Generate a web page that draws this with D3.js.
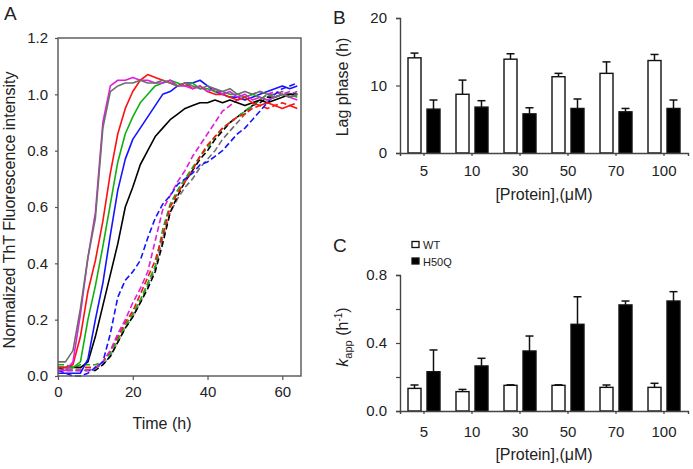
<!DOCTYPE html>
<html><head><meta charset="utf-8">
<script src="https://cdn.jsdelivr.net/npm/d3@7"></script>
<style>
body{margin:0;background:#fff;}
svg{display:block;font-family:"Liberation Sans",Arial,sans-serif;}
</style></head>
<body><svg id="c" width="693" height="469"></svg>
<script>
// ---------- Panel A data ----------
const time = d3.range(0, 65, 2); // 0,2,...,64 h
const solidGray    = [0.05,0.05,0.09,0.24,0.42,0.56,0.88,1.01,1.03,1.04,1.04,1.05,1.04,1.04,1.05,1.04,1.03,1.04,1.03,1.02,1.03,1.02,1.01,1.02,1.00,1.01,1.00,1.01,1.00,0.99,1.00,0.99,1.00];
const solidMagenta = [0.02,0.02,0.05,0.22,0.42,0.58,0.90,1.03,1.05,1.05,1.06,1.05,1.05,1.04,1.04,1.05,1.03,1.03,1.02,1.03,1.01,1.02,1.00,1.01,0.99,1.00,0.98,0.99,0.98,0.99,1.00,0.99,0.98];
const solidRed     = [0.03,0.03,0.04,0.14,0.30,0.41,0.55,0.72,0.86,0.95,1.01,1.05,1.07,1.06,1.05,1.04,1.03,1.04,1.02,1.03,1.01,1.00,1.00,0.99,0.98,0.99,0.97,0.96,0.97,0.96,0.95,0.96,0.95];
const solidGreen   = [0.03,0.03,0.03,0.05,0.20,0.32,0.46,0.61,0.76,0.86,0.92,0.97,1.00,1.03,1.04,1.05,1.04,1.03,1.04,1.02,1.02,1.01,1.01,1.00,1.00,0.99,1.00,0.99,0.98,0.99,1.00,0.99,1.00];
const solidBlue    = [0.01,0.01,0.01,0.01,0.06,0.20,0.33,0.50,0.66,0.77,0.84,0.88,0.92,0.96,1.00,1.01,1.03,1.04,1.04,1.05,1.03,1.01,1.00,0.99,0.99,0.98,0.99,1.00,1.01,1.02,1.03,1.02,1.03];
const solidBlack   = [0.03,0.03,0.03,0.03,0.05,0.14,0.25,0.36,0.47,0.60,0.67,0.75,0.80,0.85,0.88,0.91,0.93,0.95,0.96,0.97,0.97,0.98,0.97,0.98,0.97,0.96,0.97,0.98,0.97,0.98,0.99,1.00,1.00];
const dashBlue     = [0.02,0.01,0.00,0.00,0.01,0.03,0.05,0.15,0.28,0.34,0.37,0.41,0.49,0.56,0.61,0.64,0.68,0.70,0.72,0.75,0.76,0.78,0.80,0.83,0.86,0.88,0.91,0.94,0.97,1.00,1.02,1.03,1.04];
const dashMagenta  = [0.02,0.02,0.02,0.02,0.02,0.03,0.05,0.09,0.15,0.20,0.26,0.31,0.37,0.48,0.59,0.64,0.69,0.73,0.78,0.82,0.86,0.90,0.94,0.96,0.98,0.99,1.00,1.01,1.00,1.01,1.00,1.01,1.00];
const dashRed      = [0.03,0.03,0.03,0.03,0.03,0.03,0.05,0.09,0.14,0.19,0.23,0.29,0.35,0.41,0.50,0.60,0.65,0.69,0.73,0.78,0.82,0.85,0.88,0.90,0.92,0.93,0.95,0.96,0.95,0.96,0.97,0.96,0.97];
const dashGreen    = [0.04,0.04,0.03,0.04,0.04,0.04,0.05,0.08,0.13,0.18,0.22,0.27,0.33,0.39,0.52,0.61,0.66,0.70,0.74,0.78,0.81,0.85,0.88,0.90,0.92,0.94,0.96,0.98,1.00,0.99,1.00,1.00,0.99];
const dashBlack    = [0.03,0.02,0.02,0.02,0.02,0.02,0.04,0.07,0.12,0.17,0.21,0.26,0.31,0.37,0.47,0.58,0.64,0.69,0.73,0.77,0.80,0.84,0.87,0.90,0.92,0.94,0.96,0.97,0.99,0.99,1.00,0.99,1.00];
const dashGray     = [0.03,0.03,0.03,0.03,0.03,0.03,0.04,0.07,0.12,0.17,0.21,0.26,0.32,0.38,0.49,0.58,0.63,0.67,0.70,0.74,0.77,0.80,0.84,0.87,0.90,0.93,0.96,0.98,1.00,1.00,1.01,1.00,1.01];
const curveNames = ["dashGray","dashBlack","dashGreen","dashRed","dashMagenta","dashBlue","solidBlack","solidBlue","solidGreen","solidRed","solidMagenta","solidGray"];
const curveValues = [dashGray,dashBlack,dashGreen,dashRed,dashMagenta,dashBlue,solidBlack,solidBlue,solidGreen,solidRed,solidMagenta,solidGray];
const yTicksA = [0,0.2,0.4,0.6,0.8,1.0,1.2];
const xTicksA = [0,20,40,60];

// ---------- Panels B & C data ----------
const categories = ["5","10","30","50","70","100"];
const lagWT   = [14.1, 8.7, 13.9, 11.3, 11.8, 13.7];
const lagWTerr= [0.7, 2.1, 0.8, 0.5, 1.7, 0.9];
const lagH50Q = [6.5, 6.8, 5.8, 6.6, 6.1, 6.6];
const lagH50Qerr=[1.35, 0.95, 0.9, 1.4, 0.5, 1.25];
const kWT     = [0.133, 0.114, 0.151, 0.151, 0.139, 0.139];
const kWTerr  = [0.02, 0.013, 0.003, 0.003, 0.014, 0.024];
const kH50Q   = [0.231, 0.265, 0.353, 0.51, 0.624, 0.647];
const kH50Qerr= [0.128, 0.045, 0.088, 0.162, 0.023, 0.055];
const yTicksB = [0,10,20];
const yTicksC = [0,0.2,0.4,0.6,0.8];
const seriesNames = ["WT","H50Q"];

// ---------- drawing ----------
const svg = d3.select("#c");
const txt = "#222";
const colorOf = n => {
  if (/Gray/.test(n)) return "#6e6e6e";
  if (/Black/.test(n)) return "#000";
  if (/Green/.test(n)) return "#11b011";
  if (/Red/.test(n)) return "#ff1010";
  if (/Magenta/.test(n)) return "#e01ee0";
  if (/Blue/.test(n)) return "#1414ff";
};

// Panel A
const xA = d3.scaleLinear().domain([0,65]).range([58,301]);
const yA = d3.scaleLinear().domain([0,1.2]).range([376,38]);
const gA = svg.append("g");
const line = d3.line().x((d,i)=>xA(time[i])).y(d=>yA(d));
curveNames.forEach((n,k)=>{
  gA.append("path").datum(curveValues[k]).attr("d",line)
    .attr("fill","none").attr("stroke",colorOf(n)).attr("stroke-width",1.6)
    .attr("stroke-linejoin","round")
    .attr("stroke-dasharray", n.startsWith("dash") ? "6,3" : null);
});
gA.append("rect").attr("x",58).attr("y",38).attr("width",243).attr("height",338)
  .attr("fill","none").attr("stroke","#555").attr("stroke-width",1.4);
const axA_y = gA.append("g").attr("transform","translate(58,0)")
  .call(d3.axisLeft(yA).tickValues(yTicksA).tickFormat(d3.format(".1f")).tickSize(3).tickPadding(7));
const axA_x = gA.append("g").attr("transform","translate(0,376)")
  .call(d3.axisBottom(xA).tickValues(xTicksA).tickSize(4).tickPadding(6));
[axA_y,axA_x].forEach(a=>{
  a.select(".domain").remove();
  a.selectAll("line").attr("stroke","#555").attr("stroke-width",1.2);
  a.selectAll("text").attr("fill",txt).style("font-size","15px");
});
svg.append("text").attr("x",162).attr("y",429).attr("text-anchor","middle")
  .attr("fill",txt).style("font-size","16px").text("Time (h)");
svg.append("text").attr("transform","translate(15,210) rotate(-90)").attr("text-anchor","middle")
  .attr("fill",txt).style("font-size","16px").text("Normalized ThT Fluorescence intensity");
svg.append("text").attr("x",4).attr("y",20).attr("fill",txt).style("font-size","19px").text("A");

// Bar panels
const xB = d3.scaleBand().domain(categories).range([400,688]).padding(0);
function barPanel(y, ticks, fmt, wt, wtErr, mu, muErr, yLabel, letter, letterY, labelY, tickLabelY, titleY){
  const g = svg.append("g");
  const y0 = y(0);
  const bw = 13;
  const drawSeries = (vals, errs, off, fill) => {
    const gg = g.append("g");
    categories.forEach((c,i)=>{
      const cx = xB(c) + xB.bandwidth()/2 + off;
      const top = y(vals[i]), cap = y(vals[i]+errs[i]);
      gg.append("line").attr("x1",cx+bw/2).attr("x2",cx+bw/2).attr("y1",top).attr("y2",cap)
        .attr("stroke","#111").attr("stroke-width",1.5);
      gg.append("line").attr("x1",cx+bw/2-4).attr("x2",cx+bw/2+4).attr("y1",cap).attr("y2",cap)
        .attr("stroke","#111").attr("stroke-width",1.5);
      gg.append("rect").attr("x",cx).attr("y",top).attr("width",bw).attr("height",y0-top)
        .attr("fill",fill).attr("stroke","#111").attr("stroke-width",1.4);
    });
  };
  drawSeries(wt, wtErr, -16, "#fff");
  drawSeries(mu, muErr, 3, "#000");
  const ay = g.append("g").attr("transform","translate(400,0)")
    .call(d3.axisLeft(y).tickValues(ticks).tickFormat(fmt).tickSize(4).tickPadding(9));
  const ax = g.append("g").attr("transform",`translate(0,${y0})`)
    .call(d3.axisBottom(xB).tickSize(3).tickPadding(8));
  [ay,ax].forEach(a=>{
    a.select(".domain").attr("stroke","#444").attr("stroke-width",1.4);
    a.selectAll("line").attr("stroke","#444").attr("stroke-width",1.2);
    a.selectAll("text").attr("fill",txt).style("font-size","15px");
  });
  ax.selectAll("text").attr("y", tickLabelY - y0).attr("dy",0);
  svg.append("text").attr("x",544).attr("y",titleY).attr("text-anchor","middle")
    .attr("fill",txt).style("font-size","16px").text("[Protein],(\u03bcM)");
  svg.append("text").attr("x",333).attr("y",letterY).attr("fill",txt).style("font-size","19px").text(letter);
  return g;
}
const yB = d3.scaleLinear().domain([0,20]).range([153,18]);
barPanel(yB, yTicksB, d3.format("d"), lagWT, lagWTerr, lagH50Q, lagH50Qerr, null, "B", 24, 87, 176, 200);
svg.append("text").attr("transform","translate(348,87) rotate(-90)").attr("text-anchor","middle")
  .attr("fill",txt).style("font-size","16px").text("Lag phase (h)");

const yC = d3.scaleLinear().domain([0,0.8]).range([411,275]);
const gC = barPanel(yC, yTicksC, d=> (Math.abs(d*10 % 4) < 1e-9 ? d3.format(".1f")(d) : ""), kWT, kWTerr, kH50Q, kH50Qerr, null, "C", 252, 337, 437, 460);
const kl = svg.append("text").attr("transform","translate(348,337) rotate(-90)").attr("text-anchor","middle")
  .attr("fill",txt).style("font-size","16px");
kl.append("tspan").style("font-style","italic").text("k");
kl.append("tspan").attr("dy",4).style("font-size","11px").text("app");
kl.append("tspan").attr("dy",-4).text(" (h");
kl.append("tspan").attr("dy",-6).style("font-size","10px").text("-1");
kl.append("tspan").attr("dy",6).text(")");

// Legend
const leg = svg.append("g");
seriesNames.forEach((s,i)=>{
  const ly = 245 + i*16.5;
  leg.append("rect").attr("x",412).attr("y",ly-3.5).attr("width",7).attr("height",6)
    .attr("fill", i===0 ? "#fff" : "#000").attr("stroke","#111").attr("stroke-width",1.3);
  leg.append("text").attr("x",423).attr("y",ly+4).attr("fill",txt).style("font-size","11px").text(s);
});
</script></body></html>
